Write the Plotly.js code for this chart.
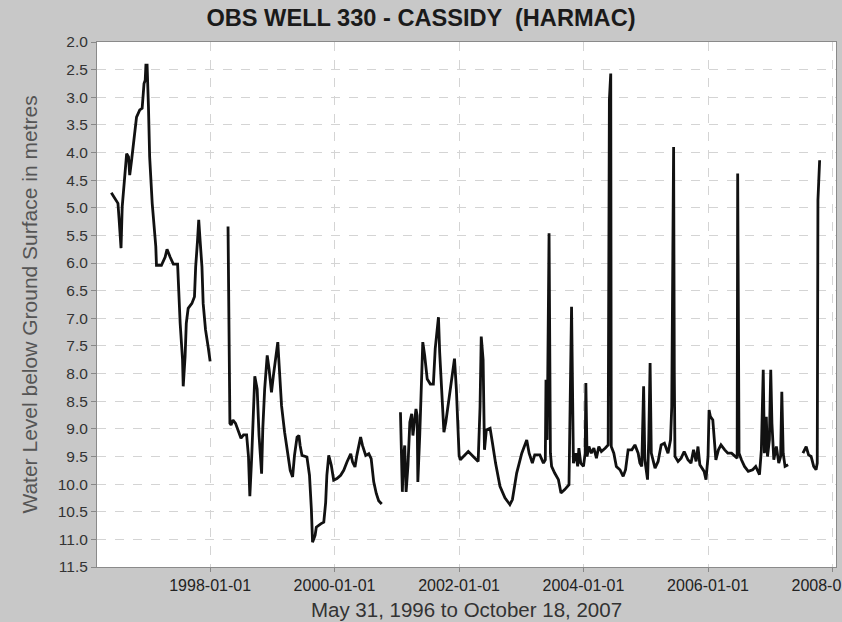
<!DOCTYPE html>
<html>
<head>
<meta charset="utf-8">
<script src="https://cdn.plot.ly/plotly-3.0.1.min.js"></script>
<style>
  html, body { margin: 0; padding: 0; background: #c8c8c8; }
  #chart { width: 842px; height: 622px; }
</style>
</head>
<body>
<div id="chart"></div>
<script>
// Observation well 330 (Cassidy, Harmac): depth to water below ground surface, metres.
// A null level marks a break in the record.
const sampleDates = [
  '1996-05-31','1996-06-21','1996-07-09','1996-07-16','1996-07-27','1996-08-03','1996-08-14','1996-08-29',
  '1996-09-09','1996-09-16','1996-09-27','1996-10-12','1996-10-26','1996-11-14','1996-11-28','1996-12-09',
  '1996-12-16','1996-12-20','1996-12-27','1997-01-04','1997-01-11','1997-01-26','1997-02-05','1997-02-16',
  '1997-02-20','1997-03-21','1997-04-12','1997-04-23','1997-05-11','1997-05-30','1997-06-24','1997-07-01',
  '1997-07-09','1997-07-23','1997-07-27','1997-08-07','1997-08-14','1997-08-25','1997-09-16','1997-10-01',
  '1997-10-08','1997-10-19','1997-10-26','1997-11-03','1997-11-14','1997-11-21','1997-12-05','1997-12-20',
  '1998-01-01',
  '1998-02-20',
  '1998-04-16','1998-04-23','1998-04-27','1998-05-04','1998-05-15','1998-05-30','1998-06-13','1998-07-01',
  '1998-07-16','1998-08-03','1998-08-14','1998-08-22','1998-09-02','1998-09-12','1998-09-20','1998-10-04',
  '1998-10-15','1998-10-30','1998-11-06','1998-11-17','1998-12-02','1998-12-13','1998-12-27','1999-01-07',
  '1999-01-22','1999-02-02','1999-02-09','1999-02-24','1999-03-14','1999-03-29','1999-04-16','1999-04-30',
  '1999-05-11','1999-05-26','1999-06-06','1999-06-13','1999-06-24','1999-07-23','1999-08-07','1999-08-18',
  '1999-08-25','1999-09-09','1999-09-16','1999-10-12','1999-10-30','1999-11-10','1999-11-17','1999-11-28',
  '1999-12-13','1999-12-27','2000-01-15','2000-02-06','2000-02-24','2000-03-14','2000-04-05','2000-04-16',
  '2000-04-30','2000-05-11','2000-06-02','2000-06-13','2000-07-02','2000-07-20','2000-08-03','2000-08-18',
  '2000-09-02','2000-09-16','2000-10-04',
  '2000-12-01',
  '2001-01-22','2001-01-26','2001-02-02','2001-02-09','2001-02-16','2001-02-24','2001-03-07','2001-03-18',
  '2001-03-29','2001-04-05','2001-04-16','2001-04-23','2001-04-30','2001-05-04','2001-05-15','2001-05-22',
  '2001-06-02','2001-06-13','2001-06-28','2001-07-16','2001-08-03','2001-08-14','2001-09-02','2001-09-09',
  '2001-09-20','2001-10-04','2001-10-15','2001-11-03','2001-11-21','2001-12-05','2001-12-16','2002-01-01',
  '2002-01-08','2002-01-26','2002-02-24','2002-03-25','2002-04-23','2002-05-04','2002-05-11','2002-05-22',
  '2002-05-30','2002-06-10','2002-07-02','2002-07-16','2002-08-03','2002-08-29','2002-09-27','2002-10-26',
  '2002-11-10','2002-12-05','2003-01-04','2003-02-02','2003-02-16','2003-03-07','2003-03-21','2003-04-20',
  '2003-05-11','2003-05-22','2003-05-26','2003-06-02','2003-06-13','2003-06-21','2003-06-28','2003-07-16',
  '2003-08-07','2003-08-22','2003-09-13','2003-10-08','2003-10-15','2003-10-23','2003-10-30','2003-11-03',
  '2003-11-17','2003-11-28','2003-12-05','2003-12-16','2004-01-01','2004-01-11','2004-01-15','2004-01-22',
  '2004-02-02','2004-02-16','2004-03-02','2004-03-17','2004-03-31','2004-04-15','2004-05-07','2004-05-25',
  '2004-06-01','2004-06-09','2004-06-12','2004-06-27','2004-07-12','2004-08-02','2004-08-21','2004-09-04',
  '2004-09-19','2004-10-11','2004-10-29','2004-11-17','2004-11-27','2004-12-08','2004-12-19','2004-12-26',
  '2005-01-11','2005-01-18','2005-01-26','2005-02-02','2005-02-24','2005-03-14','2005-04-01','2005-04-20',
  '2005-05-11','2005-05-26','2005-06-02','2005-06-10','2005-06-13','2005-06-17','2005-06-21','2005-07-09',
  '2005-07-27','2005-08-14','2005-09-05','2005-09-23','2005-10-08','2005-10-23','2005-11-03','2005-11-14',
  '2005-11-21','2005-12-09','2005-12-20','2006-01-01','2006-01-07','2006-01-15','2006-01-29','2006-02-09',
  '2006-02-16','2006-03-03','2006-03-18','2006-04-09','2006-04-27','2006-05-19','2006-06-06','2006-06-21',
  '2006-06-24','2006-07-02','2006-07-16','2006-08-03','2006-08-25','2006-09-20','2006-10-08','2006-10-30',
  '2006-11-10','2006-11-21','2006-11-28','2006-12-09','2006-12-16','2006-12-27','2007-01-04','2007-01-11',
  '2007-01-22','2007-02-06','2007-02-20','2007-03-03','2007-03-10','2007-03-18','2007-03-29','2007-04-16',
  '2007-06-01',
  '2007-07-12','2007-07-31','2007-08-14','2007-08-29','2007-09-13','2007-09-27','2007-10-04','2007-10-08',
  '2007-10-18'
];

const waterLevel = [
  4.73, 4.83, 4.92, 5.22, 5.73, 4.98, 4.50, 4.02,
  4.08, 4.41, 4.14, 3.72, 3.36, 3.23, 3.20, 2.75,
  2.69, 2.42, 2.42, 3.17, 4.08, 4.92, 5.28, 5.70,
  6.04, 6.04, 5.89, 5.75, 5.89, 6.02, 6.02, 6.55,
  7.09, 7.75, 8.23, 7.69, 7.09, 6.82, 6.73, 6.61,
  6.07, 5.59, 5.22, 5.59, 6.07, 6.73, 7.21, 7.51,
  7.78,
  null,
  5.34, 7.27, 8.90, 8.93, 8.84, 8.90, 9.02, 9.17,
  9.11, 9.11, 9.50, 10.22, 9.50, 8.78, 8.05, 8.28,
  9.12, 9.81, 9.00, 8.28, 7.67, 7.92, 8.34, 8.04,
  7.67, 7.43, 7.80, 8.58, 9.06, 9.42, 9.75, 9.87,
  9.48, 9.15, 9.12, 9.30, 9.48, 9.51, 9.84, 10.45,
  11.05, 10.93, 10.78, 10.72, 10.69, 10.33, 9.84, 9.48,
  9.66, 9.93, 9.90, 9.84, 9.75, 9.60, 9.45, 9.60,
  9.69, 9.48, 9.15, 9.30, 9.48, 9.45, 9.54, 9.96,
  10.17, 10.30, 10.36,
  null,
  8.70, 9.42, 10.14, 9.48, 9.30, 10.14, 9.66, 8.88,
  8.73, 9.12, 8.88, 8.64, 8.76, 9.96, 9.12, 8.58,
  7.43, 7.67, 8.10, 8.19, 8.19, 7.55, 6.98, 7.61,
  8.28, 9.06, 8.88, 8.46, 7.98, 7.73, 8.28, 9.48,
  9.56, 9.50, 9.41, 9.50, 9.59, 8.60, 7.33, 7.75,
  9.38, 9.02, 8.99, 9.26, 9.62, 10.04, 10.25, 10.37,
  10.28, 9.80, 9.44, 9.20, 9.44, 9.62, 9.47, 9.47,
  9.62, 9.56, 8.11, 9.20, 5.46, 9.44, 9.68, 9.80,
  9.92, 10.16, 10.10, 10.01, 8.60, 6.79, 8.60, 9.62,
  9.44, 9.68, 9.35, 9.62, 9.68, 9.44, 8.17, 9.50,
  9.32, 9.44, 9.35, 9.53, 9.32, 9.41, 9.35, 9.29,
  3.05, 2.57, 9.32, 9.44, 9.68, 9.74, 9.86, 9.74,
  9.38, 9.38, 9.29, 9.44, 9.62, 9.68, 8.23, 9.56,
  9.92, 9.20, 7.81, 9.44, 9.71, 9.59, 9.29, 9.26,
  9.44, 9.20, 8.60, 4.38, 3.90, 7.99, 9.50, 9.59,
  9.53, 9.41, 9.56, 9.62, 9.38, 9.59, 9.32, 9.65,
  9.68, 9.77, 9.92, 9.50, 8.66, 8.78, 8.84, 9.32,
  9.56, 9.38, 9.29, 9.38, 9.44, 9.44, 9.50, 9.53,
  4.38, 9.44, 9.56, 9.68, 9.77, 9.74, 9.68, 9.83,
  9.38, 7.93, 9.44, 8.78, 9.50, 9.20, 7.93, 8.90,
  9.56, 9.32, 9.62, 9.50, 8.33, 9.44, 9.68, 9.65,
  null,
  9.44, 9.32, 9.47, 9.50, 9.68, 9.74, 9.62, 4.86,
  4.14
];

const xTickDates = ['1998-01-01','2000-01-01','2002-01-01','2004-01-01','2006-01-01','2008-01-01'];
const xTickLabels = ['1998-01-01','2000-01-01','2002-01-01','2004-01-01','2006-01-01','2008-01-01'];
const yTickValues = [2.0, 2.5, 3.0, 3.5, 4.0, 4.5, 5.0, 5.5, 6.0, 6.5, 7.0, 7.5, 8.0, 8.5, 9.0, 9.5, 10.0, 10.5, 11.0, 11.5];

const FONT = 'Liberation Sans, Arial, sans-serif';

const trace = {
  type: 'scatter',
  mode: 'lines',
  x: sampleDates,
  y: waterLevel,
  connectgaps: false,
  line: { color: '#111111', width: 2.8 },
  hoverinfo: 'x+y'
};

const layout = {
  width: 842,
  height: 622,
  paper_bgcolor: '#c8c8c8',
  plot_bgcolor: '#ffffff',
  showlegend: false,
  margin: { l: 97, r: 6, t: 42, b: 55 },
  title: {
    text: 'OBS WELL 330 - CASSIDY &nbsp;(HARMAC)',
    font: { family: FONT, size: 23.6, color: '#1a1a1a', weight: 'bold' },
    xref: 'container', x: 0.5, xanchor: 'center',
    yref: 'container', y: 0.971, yanchor: 'middle'
  },
  xaxis: {
    type: 'date',
    range: ['1996-03-08', '2008-01-22'],
    tickmode: 'array',
    tickvals: xTickDates,
    ticktext: xTickLabels,
    ticklabeloverflow: 'allow',
    ticks: 'outside', ticklen: 4, tickcolor: '#888888',
    tickfont: { family: FONT, size: 16, color: '#222222' },
    showgrid: true, gridcolor: '#d4d4d4', gridwidth: 1, griddash: 'dash',
    showline: true, linecolor: '#8a8a8a', linewidth: 1, mirror: true,
    zeroline: false,
    title: {
      text: 'May 31, 1996 to October 18, 2007',
      font: { family: FONT, size: 20.5, color: '#333333' },
      standoff: 9
    }
  },
  yaxis: {
    range: [11.5, 2.0],
    tickmode: 'array',
    tickvals: yTickValues,
    tickformat: '.1f',
    ticks: 'outside', ticklen: 5, tickcolor: '#888888',
    tickfont: { family: FONT, size: 15.5, color: '#333333' },
    showgrid: true, gridcolor: '#d4d4d4', gridwidth: 1, griddash: 'dash',
    showline: true, linecolor: '#8a8a8a', linewidth: 1, mirror: true,
    zeroline: false,
    title: {
      text: 'Water Level below Ground Surface in metres',
      font: { family: FONT, size: 21, color: '#555555' },
      standoff: 14
    }
  }
};

Plotly.newPlot('chart', [trace], layout, { displayModeBar: false, staticPlot: true });
</script>
</body>
</html>
